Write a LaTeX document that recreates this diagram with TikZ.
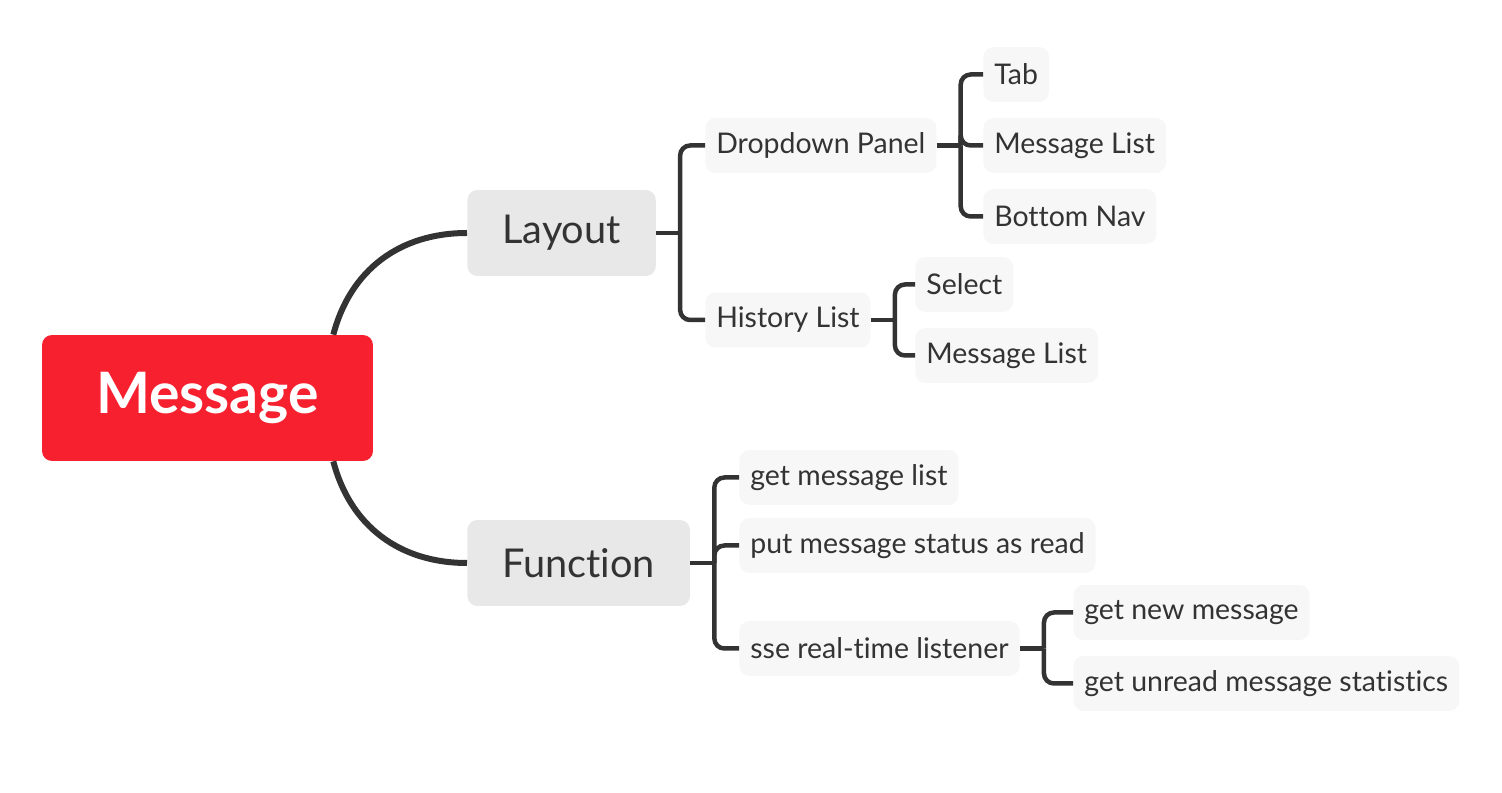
\documentclass[tikz,border=0pt]{standalone}
\usepackage{fontspec}
\setmainfont{Lato}[Ligatures=NoCommon]
\usetikzlibrary{positioning}
\definecolor{msgred}{HTML}{F7202F}
\definecolor{topicgray}{HTML}{E8E8E8}
\definecolor{leafgray}{HTML}{F7F7F7}
\definecolor{inkgray}{HTML}{333333}

\begin{document}
\begin{tikzpicture}[
  x=0.02cm, y=-0.02cm,
  every node/.style={text=inkgray},
  root/.style={rectangle, fill=msgred, rounded corners=0.2cm, minimum width=6.62cm, minimum height=2.52cm, text=white, font=\fontsize{32.5}{38}\selectfont\bfseries},
  topic/.style={rectangle, fill=topicgray, rounded corners=0.2cm, minimum height=1.72cm, inner xsep=0.7cm, anchor=west, font=\fontsize{22.6}{27}\selectfont},
  leaf/.style={rectangle, fill=leafgray, rounded corners=0.2cm, minimum height=1.1cm, inner xsep=0.22cm, anchor=west, font=\fontsize{16.2}{19}\selectfont},
  trunk/.style={draw=inkgray, line width=0.12cm},
  branch/.style={draw=inkgray, line width=0.09cm, rounded corners=0.2cm}
]
\useasboundingbox (0,0) rectangle (1502,793);

\node[root] (msg) at (207.5,398) {Message};
\node[topic] (lay) at (467,233) {Layout};
\node[topic] (fun) at (467,563) {Function};

% Layout subtree
\node[leaf] (dd) at (705,145.5) {Dropdown Panel};
\node[leaf] (hl) at (705,320) {History List};
\node[leaf] (tab) at (983,74.5) {Tab};
\node[leaf] (ddml) at (983,145.5) {Message List};
\node[leaf] (nav) at (983,216.5) {Bottom Nav};
\node[leaf] (sel) at (915,284.5) {Select};
\node[leaf] (hlml) at (915,355.5) {Message List};

% Function subtree
\node[leaf] (getml) at (739,477.5) {get message list};
\node[leaf] (put) at (739,545.5) {put message status as read};
\node[leaf] (sse) at (739,648.5) {sse real-time listener};
\node[leaf] (new) at (1073,612.5) {get new message};
\node[leaf] (unread) at (1073,683.5) {get unread message statistics};

% junctions
\coordinate (layj) at ([shift={(24,0)}]lay.east);
\coordinate (ddj) at ([shift={(24,0)}]dd.east);
\coordinate (hlj) at ([shift={(24,0)}]hl.east);
\coordinate (funj) at ([shift={(24,0)}]fun.east);
\coordinate (ssej) at ([shift={(24,0)}]sse.east);

\draw[trunk] ([shift={(-40,0)}]msg.north east) .. controls +(17,-65) and +(-67,0) .. (lay.west);
\draw[trunk] ([shift={(-40,0)}]msg.south east) .. controls +(17,65) and +(-67,0) .. (fun.west);

\draw[branch] (lay.east) -- (layj);
\draw[branch] (layj) |- (dd.west);
\draw[branch] (layj) |- (hl.west);

\draw[branch] (dd.east) -- (ddj);
\draw[branch] (ddj) |- (tab.west);
\draw[branch] (ddj) |- (ddml.west);
\draw[branch] (ddj) |- (nav.west);

\draw[branch] (hl.east) -- (hlj);
\draw[branch] (hlj) |- (sel.west);
\draw[branch] (hlj) |- (hlml.west);

\draw[branch] (fun.east) -- (funj);
\draw[branch] (funj) |- (getml.west);
\draw[branch] (funj) |- (put.west);
\draw[branch] (funj) |- (sse.west);

\draw[branch] (sse.east) -- (ssej);
\draw[branch] (ssej) |- (new.west);
\draw[branch] (ssej) |- (unread.west);
\end{tikzpicture}
\end{document}
